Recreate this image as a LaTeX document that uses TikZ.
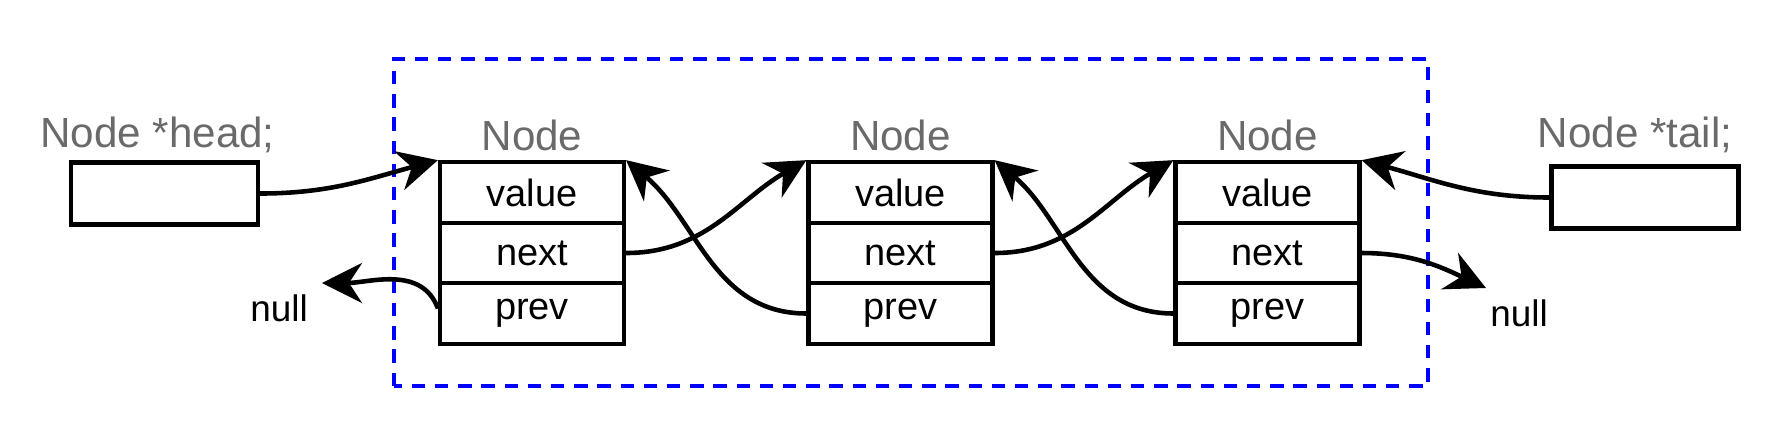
\documentclass[tikz,border=0pt]{standalone}
\usepackage{fontspec}
\setmainfont{Liberation Sans}
\usetikzlibrary{arrows.meta}
\definecolor{labelgray}{HTML}{6A6A6A}
\definecolor{frameblue}{HTML}{0000FF}
\begin{document}
\begin{tikzpicture}[
	field/.style={draw, rectangle, line width=1.2pt, minimum width=18.4mm, minimum height=6.05mm, inner sep=0pt, fill=white, font=\fontsize{10.8}{12}\selectfont},
	pointer/.style={draw, rectangle, line width=1.2pt, minimum width=18.7mm, minimum height=6.2mm, inner sep=0pt, fill=white},
	title/.style={text=labelgray, inner sep=0pt, font=\fontsize{12}{14}\selectfont},
	nulltext/.style={inner sep=0pt, font=\fontsize{10.5}{12}\selectfont},
	>={Stealth[length=4mm, width=4mm, inset=1.3mm]}
	]
	\useasboundingbox (0,0) rectangle (17.8,4.26);
	
	%-----------------------
	% Customizable heights
	%-----------------------
	\def\htitle{2.91}  % titles above the records
	\def\hval{2.335}   % value fields
	\def\hnext{1.73}   % next fields
	\def\hprev{1.125}  % prev fields
	
	%-----------------------
	% Dashed frame round the list
	%-----------------------
	\draw[frameblue, line width=1.1pt, dash pattern=on 3.8pt off 2.8pt] (3.94,0.40) rectangle (14.28,3.67);
	
	%-----------------------
	% Head and tail pointers
	%-----------------------
	\node[title] (headT) at (1.575,\htitle) {Node *head;};
	\node[pointer] (head) at (1.645,2.325) {};
	
	\node[title] (tailT) at (16.35,\htitle) {Node *tail;};
	\node[pointer] (tail) at (16.45,2.285) {};
	
	%-----------------------
	% Records
	%-----------------------
	\node[title] (T1) at (5.32,\htitle) {Node};
	\node[field] (val1) at (5.32,\hval) {value};
	\node[field] (nxt1) at (5.32,\hnext) {next};
	\node[field] (prv1) at (5.32,\hprev) {prev};
	
	\node[title] (T2) at (9.005,\htitle) {Node};
	\node[field] (val2) at (9.005,\hval) {value};
	\node[field] (nxt2) at (9.005,\hnext) {next};
	\node[field] (prv2) at (9.005,\hprev) {prev};
	
	\node[title] (T3) at (12.675,\htitle) {Node};
	\node[field] (val3) at (12.675,\hval) {value};
	\node[field] (nxt3) at (12.675,\hnext) {next};
	\node[field] (prv3) at (12.675,\hprev) {prev};
	
	%-----------------------
	% null ends
	%-----------------------
	\node[nulltext] (nullL) at (2.79,1.18) {null};
	\coordinate (endL) at (3.22,1.43);
	
	\node[nulltext] (nullR) at (15.19,1.13) {null};
	\coordinate (endR) at (14.86,1.38);
	
	%-----------------------
	% Connections
	%-----------------------
	\tikzset{connect/.style={->, line width=1.3pt}}
	
	% head / tail -> first / last record
	\draw[connect] (head.east) to[out=0, in=195] (val1.north west);
	\draw[connect] (tail.west) to[out=180, in=-15] (val3.north east);
	
	% next links
	\draw[connect] (nxt1.east) to[out=0, in=210] (val2.north west);
	\draw[connect] (nxt2.east) to[out=0, in=210] (val3.north west);
	\draw[connect] (nxt3.east) to[out=0, in=155] (endR);
	
	% prev links
	\draw[connect] (prv2.west) to[out=180, in=-40] (val1.north east);
	\draw[connect] (prv3.west) to[out=180, in=-40] (val2.north east);
	\draw[connect] ([yshift=0.5mm]prv1.west) to[out=110, in=0] (endL);
	
\end{tikzpicture}
\end{document}
